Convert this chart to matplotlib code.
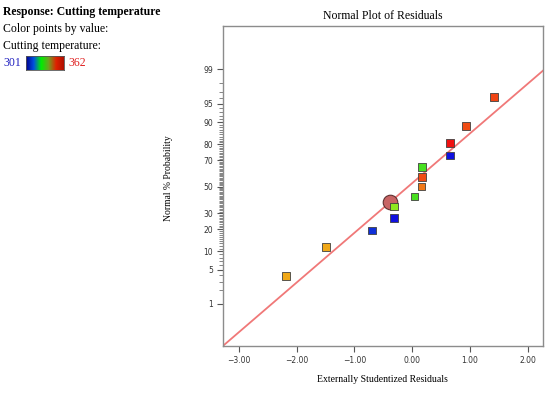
from statistics import NormalDist
import numpy as np
import matplotlib.pyplot as plt
from matplotlib.colors import LinearSegmentedColormap

# externally studentized residuals and normal % probability of each run
resid = [-2.18, -1.49, -0.70, -0.31, -0.31, 0.04, 0.16, 0.17, 0.17, 0.65, 0.65, 0.93, 1.42]
prob = [3.85, 11.5, 19.2, 26.9, 34.6, 42.3, 50.0, 57.7, 65.4, 73.1, 80.8, 88.5, 96.2]
pcol = ['#f0a818', '#f0a818', '#1030d8', '#1010e0', '#8ee820', '#48e020', '#f07818',
        '#f04c14', '#48e020', '#1010e0', '#f01010', '#f04c14', '#f04414']

# highlighted point
sel_x, sel_p = -0.38, 38.1

# fitted reference line z = a + b*x
line_a, line_b = 0.07, 0.986

yticks = [1, 5, 10, 20, 30, 50, 70, 80, 90, 95, 99]
xticks = [-3.0, -2.0, -1.0, 0.0, 1.0, 2.0]
tmin, tmax = 301, 362

nd = NormalDist()


def z(p):
    return [nd.inv_cdf(v / 100.0) for v in p]


plt.rcParams['font.family'] = ['Liberation Serif']
fig = plt.figure(figsize=(5.5, 3.95), dpi=100)
ax = fig.add_axes([0.405, 0.124, 0.583, 0.81])

xl = (-3.277, 2.27)
ax.set_xlim(xl)
ax.set_ylim(-3.16, 3.185)

xs = np.array(xl)
ax.plot(xs, line_a + line_b * xs, color='#f07878', lw=1.3, zorder=2)

ax.scatter(resid, z(prob), marker='s', s=30, c=pcol, edgecolors='#404040', linewidths=0.6, zorder=3)
ax.scatter([sel_x], z([sel_p]), marker='o', s=110, c='#c86464', edgecolors='#603030', linewidths=0.8, zorder=2.5)

ax.set_yticks(z(yticks))
ax.set_yticklabels([str(t) for t in yticks])
ax.set_yticks(z(range(1, 100)), minor=True)
ax.set_xticks(xticks)
ax.set_xticklabels(['%.2f' % t if t >= 0 else '\u2212%.2f' % -t for t in xticks])

for s in ax.spines.values():
    s.set_color('#8c8c8c')
    s.set_linewidth(1.0)
ax.tick_params(which='major', direction='out', length=4, width=0.8, color='#555555',
               labelsize=5.5, labelcolor='#333333', pad=3)
ax.tick_params(which='minor', direction='out', length=3, width=0.5, color='#555555')
for lab in ax.get_xticklabels() + ax.get_yticklabels():
    lab.set_family('DejaVu Sans')

ax.set_title('Normal Plot of Residuals', fontsize=8.5, pad=5)
ax.set_xlabel('Externally Studentized Residuals', fontsize=7.0)
ax.set_ylabel('Normal % Probability', fontsize=6.9)
ax.xaxis.set_label_coords(0.497, -0.09)
ax.yaxis.set_label_coords(-0.155, 0.525)

# header text and colour key
fig.text(0.006, 0.970, 'Response: Cutting temperature', fontsize=8.5, fontweight='bold', va='center')
fig.text(0.006, 0.927, 'Color points by value:', fontsize=8.5, va='center')
fig.text(0.006, 0.884, 'Cutting temperature:', fontsize=8.5, va='center')
fig.text(0.006, 0.840, str(tmin), fontsize=8.5, va='center', color='#2020c0')
fig.text(0.125, 0.840, str(tmax), fontsize=8.5, va='center', color='#e02020')
cax = fig.add_axes([0.048, 0.823, 0.068, 0.036])
cmap = LinearSegmentedColormap.from_list('temp', ['#000090', '#0050e0', '#00ee00', '#70a020', '#e02000', '#b01000'])
cax.imshow(np.linspace(0, 1, 100)[None, :], aspect='auto', cmap=cmap)
cax.set_xticks([])
cax.set_yticks([])
for s in cax.spines.values():
    s.set_color('#555555')
    s.set_linewidth(0.6)

fig.savefig('out.png', dpi=100)
